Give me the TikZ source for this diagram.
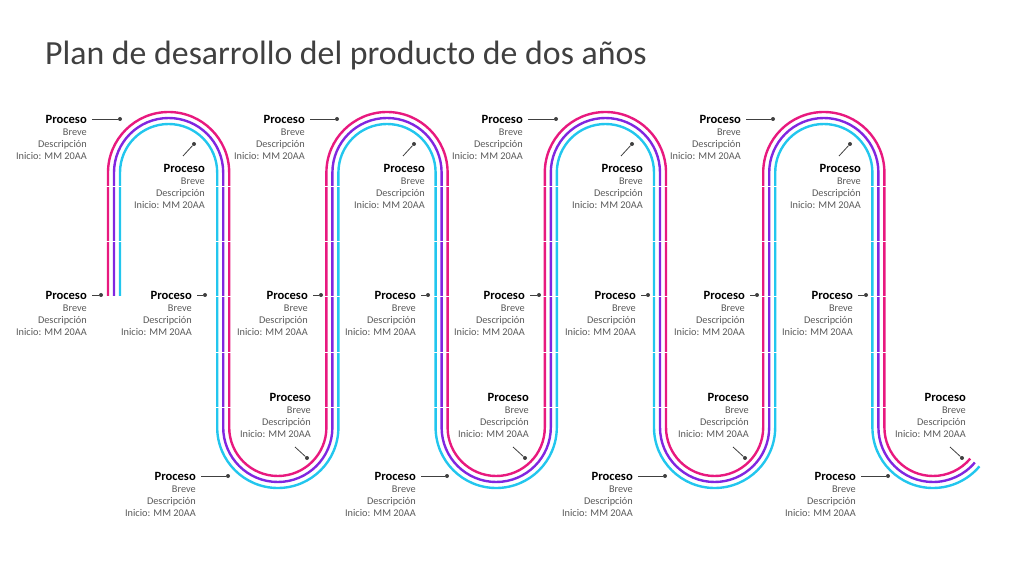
\documentclass[tikz,border=0pt]{standalone}
\usepackage{fontspec}
\setmainfont{Carlito}
\definecolor{pk}{HTML}{E8197F}
\definecolor{pu}{HTML}{8126E0}
\definecolor{cy}{HTML}{22C6EE}
\definecolor{tx}{HTML}{595959}
\definecolor{dk}{HTML}{404040}
\begin{document}
\begin{tikzpicture}[x=1pt,y=1pt,
  lbl/.style={anchor=north east,align=right,inner sep=0pt,text=tx,font=\fontsize{10.3}{11.6}\selectfont},
  dotn/.style={circle,fill=dk,inner sep=0pt,minimum size=4pt},
  lead/.style={draw=dk,line width=0.8pt},
  track/.style={line width=2.4pt}]
\useasboundingbox (0,0) rectangle (1024,576);
\node[anchor=base west,inner sep=0pt,text=dk,font=\fontsize{33.8}{40}\selectfont] (title) at (45,511) {Plan de desarrollo del producto de dos años};
\def\R{54.6}
\def\cxo{168.6}
\foreach \o/\c in {6/pk,0/pu,-6/cy}{
 \draw[track,\c] ({\cxo-\R-\o},280) -- ({\cxo-\R-\o},403.4)
  arc[start angle=180,end angle=0,radius={\R+\o}] -- ++(0,-254.8)
  arc[start angle=180,end angle=360,radius={\R-\o}] -- ++(0,254.8)
  arc[start angle=180,end angle=0,radius={\R+\o}] -- ++(0,-254.8)
  arc[start angle=180,end angle=360,radius={\R-\o}] -- ++(0,254.8)
  arc[start angle=180,end angle=0,radius={\R+\o}] -- ++(0,-254.8)
  arc[start angle=180,end angle=360,radius={\R-\o}] -- ++(0,254.8)
  arc[start angle=180,end angle=0,radius={\R+\o}] -- ++(0,-254.8)
  arc[start angle=180,end angle=320,radius={\R-\o}];
}
\foreach \j in {0,...,8}{
 \foreach \yy in {187,242,297,352,407}{
  \draw[white,line width=1pt] ({\cxo-\R+109.25*\j-10},576-\yy) -- ++(20,0);
 }
}
\newcommand\plbl[3]{\node[lbl] (#1) at (#2,{576-#3+4}) {{\color{black}\fontsize{12.6}{13}\selectfont\bfseries Proceso}\\[1pt]Breve\\Descripción\\Inicio: MM 20AA};}
% row A
\foreach \n/\x/\d in {a1/87/120,a2/305/337,a3/523/556,a4/741/773}{
 \plbl{\n}{\x}{119}
 \node[dotn] (\n d) at (\d,457) {};
 \coordinate (\n s) at (\x+5,457);
 \draw[lead] (\n s) -- (\n d);
}
% row B
\foreach \n/\x in {b1/205,b2/425,b3/643,b4/861}{
 \plbl{\n}{\x}{168}
 \node[dotn] (\n d) at (\x-11,432) {};
 \coordinate (\n s) at (\x-22,420) ;
 \draw[lead] (\n s) -- (\n d);
}
% row C
\foreach \n/\x/\d in {c1/87/101,c2/192/205,c3/308/321,c4/416/428,c5/525/539,c6/636/648,c7/745/757,c8/853/866}{
 \plbl{\n}{\x}{295}
 \node[dotn] (\n d) at (\d,281) {};
 \coordinate (\n s) at (\x+5,281);
 \draw[lead] (\n s) -- (\n d);
}
% row D
\foreach \n/\x in {d1/311,d2/529,d3/749,d4/966}{
 \plbl{\n}{\x}{397}
 \node[dotn] (\n d) at (\x-4,118) {};
 \coordinate (\n s) at (\x-16,129);
 \draw[lead] (\n s) -- (\n d);
}
% row E
\foreach \n/\x/\d in {e1/196/228,e2/416/447,e3/633/665,e4/856/888}{
 \plbl{\n}{\x}{476}
 \node[dotn] (\n d) at (\d,100) {};
 \coordinate (\n s) at (\x+5,100);
 \draw[lead] (\n s) -- (\n d);
}
\end{tikzpicture}
\end{document}
